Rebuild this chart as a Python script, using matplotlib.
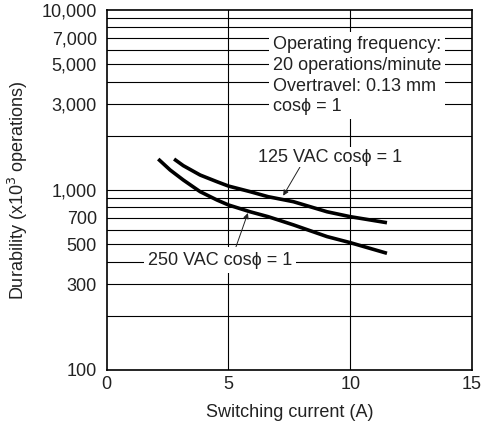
import numpy as np
import matplotlib
matplotlib.use("Agg")
import matplotlib.pyplot as plt
from matplotlib.ticker import FixedLocator, NullFormatter

plt.rcParams['font.family'] = ['Liberation Sans', 'DejaVu Sans']

# curve readings (switching current A, durability x10^3 operations)
i_125 = [2.77, 3.15, 3.84, 4.53, 5.0, 5.89, 6.63, 7.67, 9.05, 10.0, 11.51]
d_125 = [1486, 1365, 1211, 1112, 1052, 979, 918, 861, 757, 711, 658]
i_250 = [2.12, 2.61, 3.15, 3.84, 4.53, 5.0, 5.89, 6.63, 7.67, 9.05, 10.0, 11.51]
d_250 = [1486, 1291, 1136, 979, 880, 826, 757, 711, 640, 551, 510, 445]

y_ticks = [100, 300, 500, 700, 1000, 3000, 5000, 7000, 10000]
y_grid = [200, 300, 400, 500, 600, 700, 800, 900,
          1000, 2000, 3000, 4000, 5000, 6000, 7000, 8000, 9000]
x_ticks = [0, 5, 10, 15]

FS = 13
TXT = "#222222"
fig = plt.figure(figsize=(4.89, 4.33), dpi=100)
ax = fig.add_axes([0.218, 0.1455, 0.9652 - 0.218, 0.9769 - 0.1455])
ax.set_yscale("log")
ax.set_xlim(0, 15)
ax.set_ylim(100, 10000)

for g in y_grid:
    ax.axhline(g, color="black", lw=0.8, zorder=1)
for g in x_ticks[1:-1]:
    ax.axvline(g, color="black", lw=0.8, zorder=1)

ax.plot(i_125, d_125, color="black", lw=2.6, solid_capstyle="butt",
        solid_joinstyle="round", zorder=3)
ax.plot(i_250, d_250, color="black", lw=2.6, solid_capstyle="butt",
        solid_joinstyle="round", zorder=3)

ax.yaxis.set_major_locator(FixedLocator(y_ticks))
ax.yaxis.set_minor_formatter(NullFormatter())
ax.yaxis.set_minor_locator(FixedLocator([]))
ax.set_yticklabels([f"{v:,}" for v in y_ticks])
ax.set_xticks(x_ticks)
ax.tick_params(axis="both", length=0, labelsize=FS, colors=TXT)
ax.tick_params(axis="y", pad=7)
ax.tick_params(axis="x", pad=4)
for s in ax.spines.values():
    s.set_linewidth(1.2)
    s.set_zorder(4)

ax.set_xlabel("Switching current (A)", fontsize=FS, color=TXT, labelpad=8)
ax.set_ylabel("Durability (x10$^3$ operations)", fontsize=FS, color=TXT,
              labelpad=8)

box = dict(facecolor="white", edgecolor="none", pad=3)
ax.text(6.82, 7170, "Operating frequency:\n20 operations/minute\n"
        "Overtravel: 0.13 mm\ncos\u03d5 = 1", fontsize=FS, color=TXT,
        va="top", ha="left", linespacing=1.29, bbox=box, zorder=2)

ax.annotate("125 VAC cos\u03d5 = 1", xy=(7.25, 930), xytext=(6.2, 1525),
            fontsize=FS, color=TXT, va="center", ha="left",
            bbox=dict(facecolor="white", edgecolor="none", pad=1),
            arrowprops=dict(arrowstyle="-|>", color=TXT, lw=0.7,
                            mutation_scale=8, shrinkA=0, shrinkB=0,
                            relpos=(0.3, 0.0)),
            zorder=2)
ax.annotate("250 VAC cos\u03d5 = 1", xy=(5.8, 745), xytext=(1.69, 408),
            fontsize=FS, color=TXT, va="center", ha="left",
            bbox=dict(facecolor="white", edgecolor="none", pad=3),
            arrowprops=dict(arrowstyle="-|>", color=TXT, lw=0.7,
                            mutation_scale=8, shrinkA=0, shrinkB=0,
                            relpos=(0.6, 1.0)),
            zorder=2)

fig.savefig("out.png", dpi=100)
